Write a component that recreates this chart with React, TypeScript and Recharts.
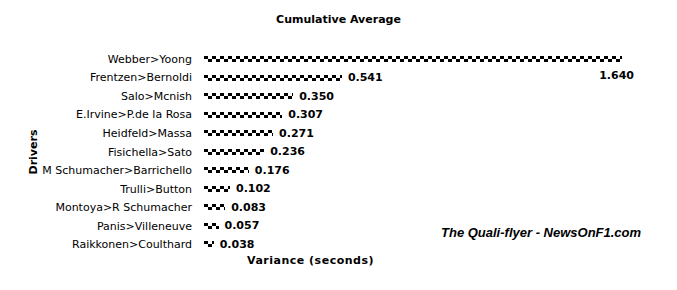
import React from 'react';
import { BarChart, Bar, XAxis, YAxis, LabelList } from 'recharts';

// --- Data ---
const drivers = [
  'Webber>Yoong',
  'Frentzen>Bernoldi',
  'Salo>Mcnish',
  'E.Irvine>P.de la Rosa',
  'Heidfeld>Massa',
  'Fisichella>Sato',
  'M Schumacher>Barrichello',
  'Trulli>Button',
  'Montoya>R Schumacher',
  'Panis>Villeneuve',
  'Raikkonen>Coulthard',
];
const variance = [1.64, 0.541, 0.35, 0.307, 0.271, 0.236, 0.176, 0.102, 0.083, 0.057, 0.038];

const data = drivers.map((name, i) => ({ name, value: variance[i] }));
const maxValue = Math.max(...variance);

const font = '"DejaVu Sans", Verdana, sans-serif';

// checkered flag bar
const CheckerBar = (props: any) => {
  const { x, y, width, height, index } = props;
  if (!width || width <= 0) return null;
  const top = Math.round(y);
  const left = Math.round(x);
  const id = `chk-${index}`;
  return (
    <g>
      <defs>
        <pattern id={id} x={left} y={top} width={8} height={6} patternUnits="userSpaceOnUse">
          <rect x={0} y={0} width={8} height={6} fill="#fff" />
          <rect x={0} y={0} width={4} height={3} fill="#000" />
          <rect x={4} y={3} width={4} height={3} fill="#000" />
        </pattern>
      </defs>
      <rect x={left} y={top} width={Math.round(width)} height={Math.round(height)} fill={`url(#${id})`} />
    </g>
  );
};

// single-line tick so long names don't wrap
const DriverTick = (props: any) => {
  const { x, y, payload } = props;
  return (
    <text x={x} y={y} textAnchor="end" dominantBaseline="central" fontFamily={font} fontSize={11} fill="#000">
      {payload.value}
    </text>
  );
};

const ValueLabel = (props: any) => {
  const { x, y, width, height, value } = props;
  const isMax = value === maxValue;
  const tx = isMax ? x + width + 12 : x + width + 6;
  const ty = isMax ? y + height / 2 + 16 : y + height / 2;
  return (
    <text
      x={tx}
      y={ty}
      textAnchor={isMax ? 'end' : 'start'}
      dominantBaseline="central"
      fontFamily={font}
      fontWeight="bold"
      fontSize={11}
      fill="#000"
    >
      {value.toFixed(3)}
    </text>
  );
};

export default function App() {
  return (
    <div style={{ position: 'relative', width: 661, height: 274, background: '#fff' }}>
      <div
        style={{
          position: 'absolute',
          left: 0,
          width: 661,
          top: 5,
          textAlign: 'center',
          fontFamily: font,
          fontWeight: 'bold',
          fontSize: 11,
        }}
      >
        Cumulative Average
      </div>
      <BarChart
        width={661}
        height={274}
        data={data}
        layout="vertical"
        margin={{ top: 42, right: 47, bottom: 28, left: 20 }}
      >
        <XAxis type="number" hide domain={[0, maxValue]} />
        <YAxis
          type="category"
          dataKey="name"
          width={176}
          interval={0}
          axisLine={false}
          tickLine={false}
          tickSize={0}
          tickMargin={12}
          tick={<DriverTick />}
          label={{
            value: 'Drivers',
            angle: -90,
            position: 'insideLeft',
            offset: 5,
            style: { textAnchor: 'middle', fontWeight: 'bold', fontSize: 11, fontFamily: font, fill: '#000' },
          }}
        />
        <Bar dataKey="value" barSize={6} shape={<CheckerBar />} isAnimationActive={false}>
          <LabelList dataKey="value" content={<ValueLabel />} />
        </Bar>
      </BarChart>
      <div
        style={{
          position: 'absolute',
          left: 239,
          top: 246,
          fontFamily: font,
          fontWeight: 'bold',
          fontSize: 11,
          letterSpacing: 0.5,
        }}
      >
        Variance (seconds)
      </div>
      <div
        style={{
          position: 'absolute',
          left: 433,
          top: 217,
          fontFamily: '"Liberation Sans", Arial, sans-serif',
          fontWeight: 'bold',
          fontStyle: 'italic',
          fontSize: 13,
        }}
      >
        The Quali-flyer - NewsOnF1.com
      </div>
    </div>
  );
}
